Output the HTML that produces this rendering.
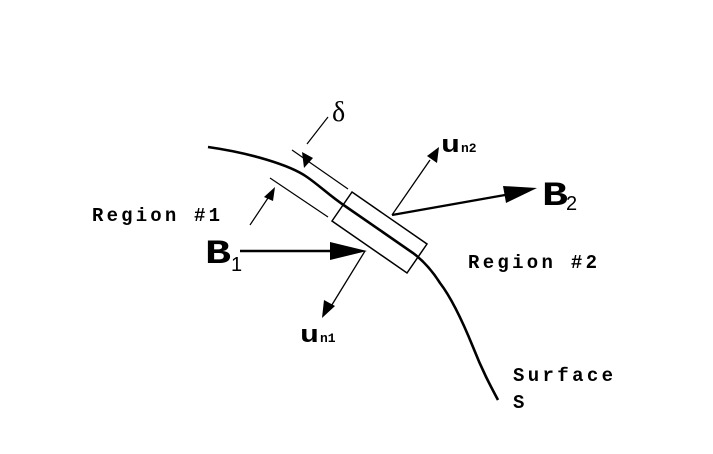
<!DOCTYPE html>
<html><head><style>html,body{margin:0;padding:0;background:#fff}
.m{font-family:"Liberation Mono","Courier New","DejaVu Sans Mono",monospace;font-weight:bold}
.s{font-family:"Liberation Sans",sans-serif}
</style></head>
<body>
<svg width="713" height="449" viewBox="0 0 713 449" xmlns="http://www.w3.org/2000/svg">
<g fill="none" stroke="#000">
<path d="M208,147 C250,153 290,165 307,177 C320,186 330,196 345,206 L413,253 C425,262 433,272 440,283 C450,296 460,315 473,347 C482,370 490,385 498,400" stroke-width="2.6"/>
<polygon points="352,192 427,244 407,273 332,221" stroke-width="1.5"/>
<line x1="292" y1="150" x2="348" y2="189" stroke-width="1.2"/>
<line x1="270" y1="178" x2="328" y2="217" stroke-width="1.2"/>
<line x1="328" y1="117" x2="307" y2="144" stroke-width="1.2"/>
<line x1="250" y1="225" x2="268" y2="198" stroke-width="1.2"/>
<line x1="240" y1="251" x2="332" y2="251" stroke-width="2.4"/>
<line x1="365" y1="251" x2="330" y2="308" stroke-width="1.3"/>
<line x1="392" y1="215" x2="430" y2="160" stroke-width="1.3"/>
<line x1="392" y1="215" x2="505" y2="195" stroke-width="2.4"/>
</g>
<g fill="#000">
<polygon points="302,152 304,168 313,158"/>
<polygon points="275,187 264,197 273,201"/>
<polygon points="367,251 330,242 330,260"/>
<polygon points="322,318 324,300 335,306"/>
<polygon points="439,147 427,156 437,163"/>
<polygon points="537,188 503,186 506,203"/>
</g>
<g class="m" fill="#000">
<text x="92" y="221" font-size="19" textLength="128" lengthAdjust="spacing">Region #1</text>
<text x="468" y="268" font-size="19" textLength="129" lengthAdjust="spacing">Region #2</text>
<text x="513" y="381" font-size="19" textLength="100" lengthAdjust="spacing">Surface</text>
<text x="513" y="408" font-size="19">S</text>
<text x="205" y="263" font-size="34" textLength="26" lengthAdjust="spacingAndGlyphs">B</text>
<text x="542" y="205" font-size="34" textLength="26" lengthAdjust="spacingAndGlyphs">B</text>
<text x="441" y="152" font-size="24" textLength="19" lengthAdjust="spacingAndGlyphs">u</text>
<text x="461" y="152" font-size="13">n2</text>
<text x="300" y="342" font-size="24" textLength="19" lengthAdjust="spacingAndGlyphs">u</text>
<text x="320" y="342" font-size="13">n1</text>
</g>
<g class="s" fill="#000">
<text x="231" y="271" font-size="20">1</text>
<text x="566" y="210" font-size="20">2</text>
</g>
<text x="332" y="121" style="font-family:'Liberation Serif',serif" font-size="28" fill="#000">δ</text>
</svg>
</body></html>
